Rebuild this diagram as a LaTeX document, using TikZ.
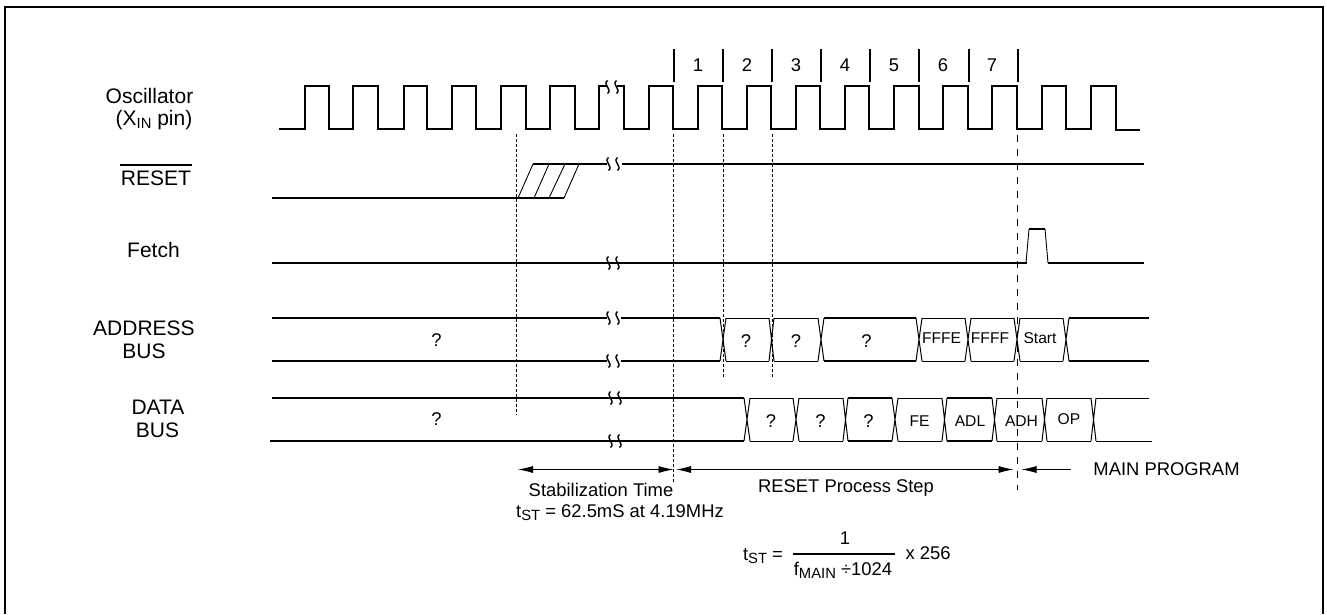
\documentclass[tikz,border=0pt]{standalone}
\usepackage{fontspec}
\setmainfont{Liberation Sans}
\usetikzlibrary{arrows.meta}
\newcommand{\lowtxt}[1]{\raisebox{-3.2pt}{\fontsize{14.8}{16}\selectfont #1}}

\begin{document}
\begin{tikzpicture}[x=1pt,y=-1pt,
sig/.style={line width=1.8pt,line join=miter},
cell/.style={line width=1pt},
thin1/.style={line width=0.9pt},
vtick/.style={line width=1.6pt},
dash1/.style={line width=0.8pt,dash pattern=on 3pt off 2pt},
dash2/.style={line width=0.8pt,dash pattern=on 7pt off 7pt},
dim/.style={line width=0.8pt,{Latex[length=15pt,width=7pt]}-{Latex[length=15pt,width=7pt]}},
lbl/.style={font=\fontsize{18.4}{20}\selectfont,inner sep=0pt},
clbl/.style={font=\fontsize{15.6}{18}\selectfont,inner sep=0pt},
sname/.style={font=\fontsize{21}{23}\selectfont,inner sep=0pt},
brk/.pic={\draw[line width=1.4pt] (-4.5,-6.5) .. controls (-10,-2) and (1,2) .. (-4.5,6.5);
\draw[line width=1.4pt] (4.5,-6.5) .. controls (-1,-2) and (10,2) .. (4.5,6.5);}]

\useasboundingbox (0,0) rectangle (1327,614);
\draw[line width=2pt] (5,614) -- (5,6.7) -- (1323,6.7) -- (1323,614);

% left labels
\node[sname] (osc) at (149.5,96) {Oscillator};
\node[sname] (xin) at (154,120) {(X\lowtxt{IN} pin)};
\node[sname] (rst) at (156,178) {RESET};
\coordinate (rsta) at (120,165);
\coordinate (rstb) at (192,165);
\draw[line width=1.6pt] (rsta) -- (rstb);
\node[sname] (fetch) at (153.5,250) {Fetch};
\node[sname] (addr) at (144,328) {ADDRESS};
\node[sname] (addrb) at (144,351) {BUS};
\node[sname] (data) at (158,407) {DATA};
\node[sname] (datab) at (157.5,430) {BUS};

% oscillator
\draw[sig] (279,129) foreach \xr/\xf in {305/329,353/378,404/427,452/476,501/526,550/575}{
-- (\xr,129) -- (\xr,86) -- (\xf,86) -- (\xf,129)} -- (599,129) -- (599,86) -- (607,86);
\draw[sig] (617,86) -- (624,86) -- (624,129) foreach \xr/\xf in {649/673,698/722,747/771,796/820,845/869,894/919,943/968,992/1017,1042/1066}{
-- (\xr,129) -- (\xr,86) -- (\xf,86) -- (\xf,129)} -- (1091,129) -- (1091,86) -- (1116,86) -- (1116,130) -- (1140,130);
\pic at (612,87) {brk};

% step ticks
\foreach \x in {674,723,772,821,870,919,969,1018}
  \draw[vtick] (\x,49) -- (\x,82);
\foreach \x/\t in {698/1,747/2,796/3,845/4,894/5,943/6,992/7}
  \node[lbl] (step\t) at (\x,65) {\t};

% guides
\foreach \x/\yb in {516.5/415,673.5/483,723.5/377,772.5/377}
  \draw[dash1] (\x,134) -- (\x,\yb);
\draw[dash2] (1017.5,135) -- (1017.5,490);

% reset
\draw[sig] (272,198) -- (564,198);
\draw[sig] (533,164) -- (607,164);
\draw[sig] (622,164) -- (1144,164);
\foreach \xa/\xb in {518/533,534/549,549/565,564/579}
  \draw[thin1] (\xa,198) -- (\xb,164);
\pic at (613,164) {brk};

% fetch
\draw[sig] (272,263) -- (1027,263);
\draw[sig] (1048,263) -- (1144,263);
\draw[sig] (1029,229) -- (1045,229);
\draw[thin1] (1026,263) -- (1029,229) (1045,229) -- (1048,263);
\pic at (613,263) {brk};

% address bus
\foreach \y in {318,361}{
  \draw[sig] (272,\y) -- (607,\y);
  \draw[sig] (621,\y) -- (720,\y);
  \draw[sig] (824,\y) -- (916,\y);
  \draw[sig] (1069,\y) -- (1149,\y);
  \foreach \xa/\xb in {726/769,774/818,922/965,971/1014,1020/1063}
    \draw[cell] (\xa,\y) -- (\xb,\y);
  \pic at (613,\y) {brk};
}
\foreach \xa/\xb in {720/726,769/774,818/824,916/922,965/971,1014/1020,1063/1069}
  \draw[cell] (\xa,318) -- (\xb,361) (\xa,361) -- (\xb,318);

% data bus
\draw[sig] (272,398) -- (744,398);
\draw[sig] (270,441) -- (744,441);
\foreach \y in {398,441}{
  \foreach \xa/\xb in {750/793,799/843,898/942,997/1042,1047/1091}
    \draw[cell] (\xa,\y) -- (\xb,\y);
  \foreach \xa/\xb in {848/892,947/992}
    \draw[sig] (\xa,\y) -- (\xb,\y);
  \pic at (615,\y) {brk};
}
\draw[cell] (1096,398) -- (1149,398);
\draw[cell] (1096,441) -- (1152,441);
\foreach \xa/\xb in {744/750,793/799,843/848,892/898,942/947,992/997,1042/1047,1091/1096}
  \draw[cell] (\xa,398) -- (\xb,441) (\xa,441) -- (\xb,398);

% bus contents
\node[lbl] (aq) at (436.5,340) {?};
\node[lbl] (dq) at (436.5,419) {?};
\foreach \x/\t/\n in {746/?/a1,796/?/a2,866.5/?/a3}
  \node[lbl] (\n) at (\x,341) {\t};
\node[clbl] (afe) at (941.5,338) {FFFE};
\node[clbl] (aff) at (990,338) {FFFF};
\node[clbl] (ast) at (1040,338) {Start};
\foreach \x/\t/\n in {771/?/d1,820.5/?/d2,868.5/?/d3}
  \node[lbl] (\n) at (\x,421) {\t};
\foreach \x/\t/\n in {919.5/FE/d4,970/ADL/d5,1021.5/ADH/d6}
  \node[clbl] (\n) at (\x,421) {\t};
\node[clbl] (dop) at (1069,419) {OP};

% timing
\coordinate (sa) at (518,469.5);
\coordinate (sb) at (673.5,469.5);
\coordinate (ra) at (676,469.5);
\coordinate (rb) at (1013.5,469.5);
\coordinate (ma) at (1070.5,469.5);
\coordinate (mb) at (1021.5,469.5);
\draw[dim] (sa) -- (sb);
\draw[dim] (ra) -- (rb);
\draw[line width=0.8pt,-{Latex[length=15pt,width=7pt]}] (ma) -- (mb);
\node[lbl] (stab) at (601,490) {Stabilization Time};
\node[lbl] (tst) at (620,513) {t\lowtxt{ST} = 62.5mS at 4.19MHz};
\node[lbl] (rps) at (846,488) {RESET Process Step};
\node[lbl] (main) at (1166.5,469) {MAIN PROGRAM};

% formula
\node[lbl] (tf) at (763,556) {t\lowtxt{ST} =};
\node[lbl] (num) at (845,538) {1};
\node[lbl] (den) at (843,570) {f\lowtxt{MAIN} ÷1024};
\node[lbl] (mul) at (928,553) {x 256};
\coordinate (ba) at (793,554);
\coordinate (bb) at (895,554);
\draw[line width=1.6pt] (ba) -- (bb);

\end{tikzpicture}
\end{document}
